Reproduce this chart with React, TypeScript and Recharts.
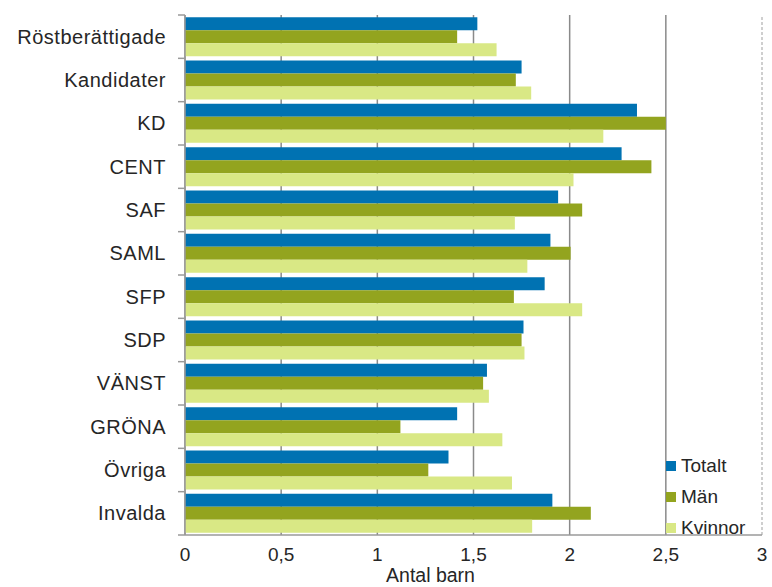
import { BarChart, Bar, XAxis, YAxis, CartesianGrid, Legend, ReferenceLine, Label } from "recharts";

const categories = [
  "Röstberättigade", "Kandidater", "KD", "CENT", "SAF", "SAML",
  "SFP", "SDP", "VÄNST", "GRÖNA", "Övriga", "Invalda",
];
const totalt = [1.52, 1.75, 2.35, 2.27, 1.94, 1.90, 1.87, 1.76, 1.57, 1.415, 1.37, 1.91];
const man = [1.415, 1.72, 2.50, 2.425, 2.065, 2.005, 1.71, 1.75, 1.55, 1.12, 1.265, 2.11];
const kvinnor = [1.62, 1.80, 2.175, 2.02, 1.715, 1.78, 2.065, 1.765, 1.58, 1.65, 1.70, 1.805];
const seriesNames = ["Totalt", "Män", "Kvinnor"];
const xTicks = [0, 0.5, 1, 1.5, 2, 2.5, 3];

const data = categories.map((name, i) => ({
  name,
  Totalt: totalt[i],
  Män: man[i],
  Kvinnor: kvinnor[i],
}));

const TEXT = "#262626";
const AXIS = "#9a9a9a";

function CategoryTick(props: any) {
  const { x, y, payload, index } = props;
  const half = payload.offset ?? 0;
  const last = index === categories.length - 1;
  return (
    <g>
      <line x1={x - 7} x2={x} y1={y - half} y2={y - half} stroke={AXIS} strokeWidth={1.5} />
      {last && <line x1={x - 7} x2={x} y1={y + half} y2={y + half} stroke={AXIS} strokeWidth={1.5} />}
      <text x={x - 19} y={y} dy={7} textAnchor="end" fontSize={20} letterSpacing={0.5} fill={TEXT}>
        {payload.value}
      </text>
    </g>
  );
}

function LegendBox(props: any) {
  const items = [...(props.payload || [])].sort(
    (a: any, b: any) => seriesNames.indexOf(a.value) - seriesNames.indexOf(b.value)
  );
  return (
    <div>
      {items.map((it: any) => (
        <div key={it.value} style={{ display: "flex", alignItems: "center", height: 31, fontSize: 19, color: TEXT }}>
          <span style={{ width: 10, height: 10, background: it.color, marginRight: 5, display: "inline-block" }} />
          <span>{it.value}</span>
        </div>
      ))}
    </div>
  );
}

export default function App() {
  return (
    <div style={{ position: "absolute", left: 0, top: 0, fontFamily: "'Liberation Sans', Arial, sans-serif" }}>
      <BarChart
        width={772}
        height={587}
        data={data}
        layout="vertical"
        margin={{ top: 15, right: 10, bottom: 0, left: 0 }}
        barCategoryGap="5%"
        barGap={0}
      >
        <CartesianGrid horizontal={false} stroke="#8a8a8a" strokeWidth={1.5} />
        <XAxis
          type="number"
          domain={[0, 3]}
          ticks={xTicks}
          interval={0}
          height={52}
          axisLine={{ stroke: AXIS, strokeWidth: 1.5 }}
          tickLine={false}
          tickSize={0}
          tickMargin={13}
          tick={{ fontSize: 19, fill: TEXT }}
          tickFormatter={(v: number) => String(v).replace(".", ",")}
        >
          <Label value="Antal barn" position="insideBottom" offset={5} dx={-43} fontSize={19.5} fill={TEXT} />
        </XAxis>
        <XAxis
          xAxisId="top"
          orientation="top"
          type="number"
          domain={[0, 3]}
          height={0}
          tick={false}
          tickLine={false}
          axisLine={{ stroke: "#dddddd", strokeWidth: 2 }}
        />
        <YAxis
          type="category"
          dataKey="name"
          width={185}
          interval={0}
          tickLine={false}
          tickSize={0}
          tickMargin={0}
          axisLine={{ stroke: AXIS, strokeWidth: 1.5 }}
          tick={<CategoryTick />}
        />
        <ReferenceLine x={3} stroke="#ffffff" strokeWidth={3} />
        <ReferenceLine x={3} stroke="#cfcfcf" strokeWidth={2} strokeDasharray="3 2" />
        <Legend
          layout="vertical"
          align="center"
          verticalAlign="middle"
          wrapperStyle={{ left: 666, top: 450, width: 100 }}
          content={<LegendBox />}
        />
        <Bar dataKey="Totalt" fill="#0072B2" isAnimationActive={false} />
        <Bar dataKey="Män" fill="#93A41F" isAnimationActive={false} />
        <Bar dataKey="Kvinnor" fill="#D9E885" isAnimationActive={false} />
      </BarChart>
    </div>
  );
}
